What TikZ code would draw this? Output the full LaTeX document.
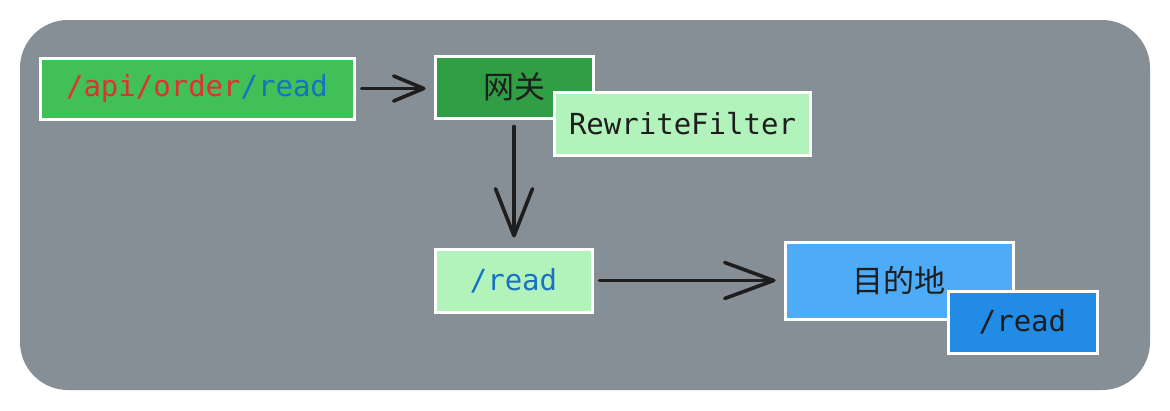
\documentclass[tikz,border=0pt]{standalone}
\usepackage{fontspec}
\setmainfont{DejaVu Sans Mono}
\newfontfamily\cjk{Noto Sans CJK SC}
\usetikzlibrary{arrows.meta}
\definecolor{bggray}{HTML}{868E96}
\definecolor{grA}{HTML}{40C057}
\definecolor{grB}{HTML}{2F9E44}
\definecolor{grC}{HTML}{B2F2BB}
\definecolor{blA}{HTML}{4DABF7}
\definecolor{blB}{HTML}{228BE6}
\definecolor{txred}{HTML}{E03131}
\definecolor{txblue}{HTML}{1971C2}
\definecolor{ink}{HTML}{1E1E1E}
\tikzset{
  boxnode/.style={draw=white, line width=3pt, inner sep=0pt, text=ink,
    font=\fontsize{29}{31}\selectfont},
  cjkfont/.style={font=\fontsize{31}{33}\selectfont\cjk},
  conn/.style={draw=ink, line width=3.6pt, line cap=round},
}
\begin{document}
\begin{tikzpicture}[x=1pt,y=-1pt]
\useasboundingbox (0,0) rectangle (1170,410);
\fill[white] (0,0) rectangle (1170,410);
\fill[bggray, rounded corners=48pt] (20,20) rectangle (1150,390);

\node[boxnode, fill=grA, minimum width=314pt, minimum height=61pt] (src) at (197,88.5)
  {\textcolor{txred}{/api/order}\textcolor{txblue}{/read}};
\node[boxnode, cjkfont, fill=grB, minimum width=158pt, minimum height=62pt] (gw) at (514,87)
  {网关};
\node[boxnode, fill=grC, minimum width=256pt, minimum height=63pt] (rf) at (682.5,123.5)
  {RewriteFilter};
\node[boxnode, fill=grC, minimum width=157pt, minimum height=63pt, text=txblue] (rd) at (513.5,280.5)
  {/read};
\node[boxnode, cjkfont, fill=blA, minimum width=228pt, minimum height=77pt] (dst) at (899,280.5)
  {目的地};
\node[boxnode, fill=blB, minimum width=149pt, minimum height=62pt] (drd) at (1022.5,322)
  {/read};

\draw[conn, -{Straight Barb[length=30pt,width=25pt,line width=3.6pt,round]}]
  ([xshift=6pt]src.east) -- ([xshift=-8pt]src.east -| gw.west);
\draw[conn, -{Straight Barb[length=47pt,width=37pt,line width=3.6pt,round]}]
  ([yshift=-7pt]gw.south) -- ([yshift=10pt]gw.south |- rd.north);
\draw[conn, -{Straight Barb[length=49pt,width=36pt,line width=3.6pt,round]}]
  ([xshift=6pt]rd.east) -- ([xshift=-8pt]rd.east -| dst.west);
\end{tikzpicture}
\end{document}
